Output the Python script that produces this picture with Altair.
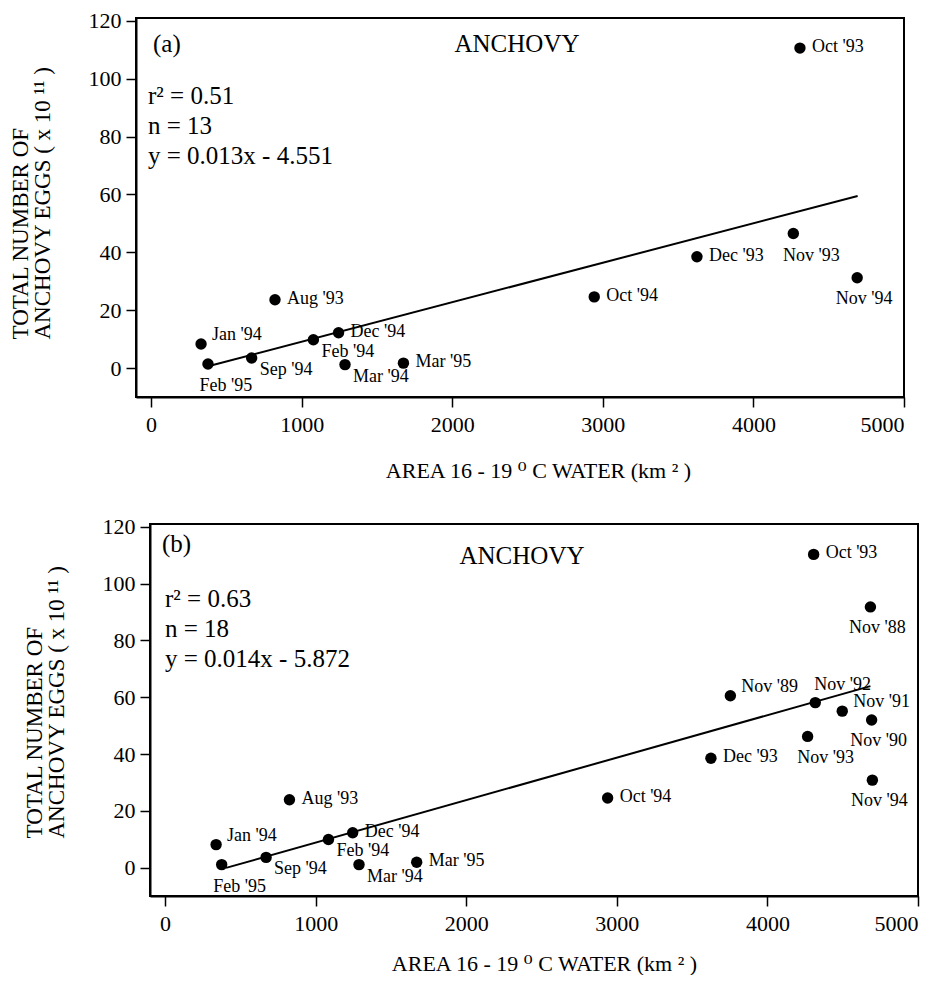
import altair as alt
import pandas as pd

# ---------------- data ----------------
labels_a = ["Jan '94", "Feb '95", "Sep '94", "Aug '93", "Feb '94", "Dec '94", "Mar '94",
            "Mar '95", "Oct '94", "Dec '93", "Nov '93", "Nov '94", "Oct '93"]
area_a = [332, 378, 668, 823, 1078, 1245, 1288, 1676, 2943, 3625, 4265, 4689, 4309]
eggs_a = [8.3, 1.4, 3.5, 23.6, 9.8, 12.2, 1.2, 1.7, 24.6, 38.5, 46.5, 31.2, 110.6]
place_a = ["upright", "below", "belowright", "right", "belowright", "right", "belowright",
           "right", "right", "right", "below", "under", "right"]
fit_a_x = [398, 4692]
fit_a_y = [0.9, 59.5]

labels_b = ["Jan '94", "Feb '95", "Sep '94", "Aug '93", "Feb '94", "Dec '94", "Mar '94",
            "Mar '95", "Oct '94", "Dec '93", "Nov  '89", "Oct '93", "Nov  '92", "Nov '93",
            "Nov  '91", "Nov  '88", "Nov  '90", "Nov '94"]
area_b = [339, 376, 671, 826, 1085, 1246, 1288, 1671, 2939, 3625, 3754, 4307, 4318, 4267,
          4497, 4684, 4692, 4697]
eggs_b = [8.1, 1.05, 3.6, 23.9, 9.9, 12.3, 1.05, 1.9, 24.5, 38.5, 60.5, 110.3, 58.1, 46.2,
          55.1, 91.8, 52.0, 30.8]
place_b = ["upright", "below", "belowright", "right", "belowright", "right", "belowright",
           "right", "right", "right", "upright", "right", "above", "below", "upright",
           "under", "under", "under"]
fit_b_x = [405, 4684]
fit_b_y = [-0.1, 63.9]

stats_a = ["r² = 0.51", "n = 13", "y = 0.013x - 4.551"]
stats_b = ["r² = 0.63", "n = 18", "y = 0.014x - 5.872"]

x_ticks = [0, 1000, 2000, 3000, 4000, 5000]
y_ticks = [0, 20, 40, 60, 80, 100, 120]
x_title = "AREA 16 - 19 ⁰ C WATER (km ² )"
y_title = ["TOTAL NUMBER OF", "ANCHOVY EGGS ( x 10 ¹¹ )"]

FONT = "Liberation Serif"
TFONT = "Liberation Serif, DejaVu Serif"
# label placement styles (align, dx, dy)
PLACES = {
    "right": ("left", 12, -1),
    "upright": ("left", 11, -9),
    "belowright": ("left", 8, 12),
    "below": ("center", 18, 22),
    "under": ("center", 7, 21),
    "above": ("left", -1, -18),
}

LEFT_A = 135   # plot-area offset of panel (a) from the page edge
LEFT_B = 148   # plot-area offset of panel (b)


def panel(tag, labels, area, eggs, place, fx, fy, stats, W, H, title_x, x_title_pad, ann,
          left_extent):
    pts = pd.DataFrame({"area": area, "eggs": eggs, "label": labels, "place": place})
    fit = pd.DataFrame({"area": fx, "eggs": fy})
    xs = alt.Scale(domain=[-100, 5000], nice=False, zero=False)
    ys = alt.Scale(domain=[-10, 121], nice=False, zero=False)
    X = alt.X("area:Q", scale=xs,
              axis=alt.Axis(values=x_ticks, format="d", title=x_title, titleX=title_x,
                            titlePadding=x_title_pad, labelPadding=7))
    Y = alt.Y("eggs:Q", scale=ys,
              axis=alt.Axis(values=y_ticks, format="d", title=y_title, titleAlign="left",
                            titleAngle=270, titleY=H - 58, titlePadding=34,
                            titleFontSize=23, titleLineHeight=22, labelPadding=5))

    line = alt.Chart(fit).mark_line(color="black", strokeWidth=2).encode(x=X, y=Y)
    dots = alt.Chart(pts).mark_circle(size=130, color="black", opacity=1).encode(x=X, y=Y)
    layers = [line, dots]
    for key, (al, dx, dy) in PLACES.items():
        sub = pts[pts["place"] == key]
        if len(sub) == 0:
            continue
        layers.append(
            alt.Chart(sub).mark_text(font=FONT, fontSize=18, color="black", align=al,
                                     baseline="middle", dx=dx, dy=dy)
            .encode(x=X, y=Y, text="label:N")
        )
    one = pd.DataFrame({"k": [0]})
    layers.append(
        alt.Chart(one).mark_text(font=FONT, fontSize=25, color="black", align="left",
                                 baseline="middle")
        .encode(x=alt.value(ann["tag"][0]), y=alt.value(ann["tag"][1]), text=alt.value(tag))
    )
    layers.append(
        alt.Chart(one).mark_text(font=FONT, fontSize=25, color="black", align="center",
                                 baseline="middle")
        .encode(x=alt.value(ann["name"][0]), y=alt.value(ann["name"][1]),
                text=alt.value("ANCHOVY"))
    )
    layers.append(
        alt.Chart(one).mark_text(font=FONT, fontSize=25, color="black", align="left",
                                 baseline="middle", lineHeight=30)
        .encode(x=alt.value(ann["stats"][0]), y=alt.value(ann["stats"][1]),
                text=alt.value(stats))
    )
    # white, invisible glyph that sets how far this panel's bounds reach to the left
    layers.append(
        alt.Chart(one).mark_text(font=FONT, fontSize=10, color="white", align="left",
                                 baseline="middle")
        .encode(x=alt.value(-left_extent), y=alt.value(H / 2), text=alt.value("."))
    )
    return alt.layer(*layers).properties(
        width=W, height=H,
        view=alt.ViewBackground(stroke="black", strokeWidth=2, fill="white"),
    )


pa = panel("(a)", labels_a, area_a, eggs_a, place_a, fit_a_x, fit_a_y, stats_a, 768, 379, 402,
           25, {"tag": (17, 26), "name": (381, 26), "stats": (12, 78)}, LEFT_A)
pb = panel("(b)", labels_b, area_b, eggs_b, place_b, fit_b_x, fit_b_y, stats_b, 768, 372, 394,
           19, {"tag": (12, 20), "name": (372, 32), "stats": (15, 75)}, LEFT_B)

# 1x1 empty view used only to nudge panel (b) to the right of panel (a)
spacer = alt.Chart(pd.DataFrame({"k": [0]})).mark_point(opacity=0).encode(
    x=alt.value(0), y=alt.value(0)
).properties(width=1, height=1, view=alt.ViewBackground(strokeOpacity=0, fillOpacity=0))

row_b = alt.hconcat(spacer, pb, spacing=(LEFT_B - LEFT_A) - 3 - LEFT_B)

chart = alt.vconcat(pa, row_b, spacing=32).properties(
    padding={"left": 0, "top": 8, "right": 0, "bottom": 0},
    background="white",
).configure_axis(
    grid=False,
    labelFont=FONT, labelFontSize=22, labelColor="black",
    titleFont=TFONT, titleFontSize=22, titleFontWeight="normal", titleColor="black",
    titleLineHeight=22,
    domainColor="black", domainWidth=2, tickColor="black", tickWidth=1.5, tickSize=10,
)

chart.save("out.html", embed_options={"renderer": "svg", "actions": False})
